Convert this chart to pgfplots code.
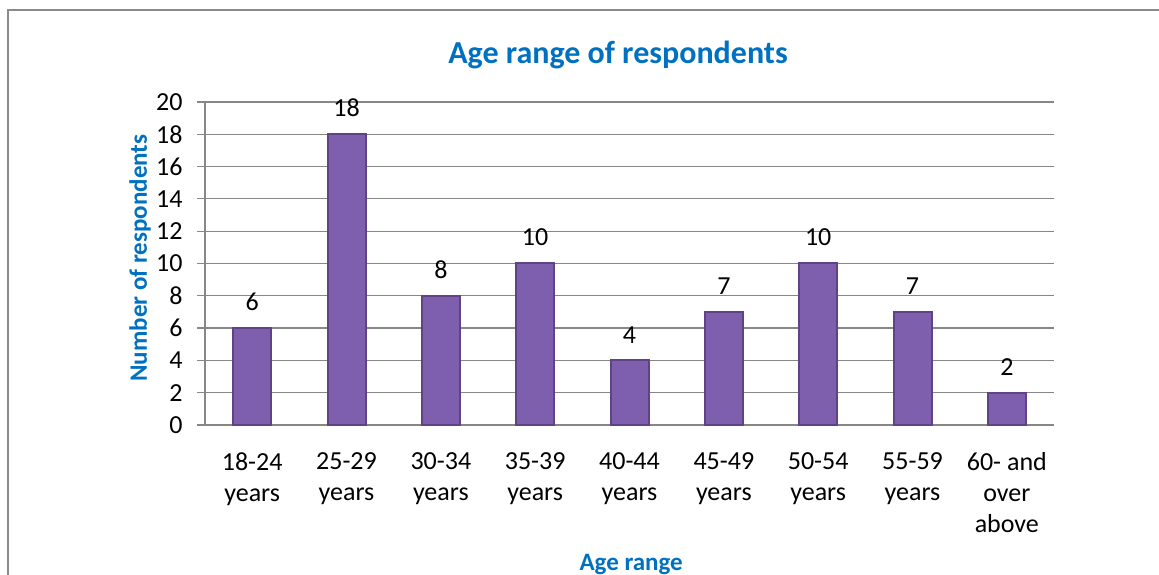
\documentclass[border=0pt]{standalone}
\usepackage{pgfplots}
\pgfplotsset{compat=1.18}
\usepackage{fontspec}
\setmainfont{Carlito}
\definecolor{titleblue}{HTML}{0070C0}
\definecolor{gridgray}{HTML}{878787}
\definecolor{barmid}{HTML}{7E5FAD}
\definecolor{barside}{HTML}{5E4487}
\definecolor{framegray}{HTML}{8A8A8A}
\begin{document}
\begin{tikzpicture}[x=1bp,y=1bp]
\useasboundingbox (0,0) rectangle (1159,575);
\draw[framegray, line width=1.5bp] (8,0) -- (8,565) -- (1159,565);
\begin{axis}[
  at={(205bp,150bp)}, anchor=south west,
  scale only axis, width=849bp, height=323bp,
  xmin=-0.5, xmax=8.5, ymin=0, ymax=20,
  ytick={0,2,...,20},
  xtick={0,...,8},
  xticklabels={{18-24\\years},{25-29\\years},{30-34\\years},{35-39\\years},{40-44\\years},{45-49\\years},{50-54\\years},{55-59\\years},{60- and\\over\\above}},
  extra x ticks={-0.5,0.5,...,8.5},
  extra x tick labels={},
  extra x tick style={grid=none, major tick length=8bp},
  x tick style={draw=none},
  y tick style={draw=gridgray, line width=1.2bp},
  major tick length=8bp,
  tick align=outside,
  axis x line*=bottom, axis y line*=left,
  axis line style={draw=gridgray, line width=1.2bp},
  ymajorgrids, grid style={draw=gridgray, line width=1.2bp},
  /pgf/number format/assume math mode=true,
  tick label style={font=\fontsize{26bp}{31bp}\selectfont, text=black},
  xticklabel style={align=center, anchor=north, yshift=-16bp},
  yticklabel style={anchor=east, xshift=-11bp},
  title={Age range of respondents},
  title style={at={(axis description cs:0.4865,1.102)}, anchor=base, yshift=0pt, font=\fontsize{32bp}{36bp}\selectfont\bfseries, text=titleblue},
  xlabel={Age range},
  xlabel style={at={(axis description cs:0.502,-0.449)}, anchor=base, font=\fontsize{25bp}{30bp}\selectfont\bfseries, text=titleblue},
  ylabel={Number of respondents},
  ylabel style={at={(axis description cs:-0.0766,0.517)}, anchor=center, font=\fontsize{25bp}{30bp}\selectfont\bfseries, text=titleblue},
  ybar, bar width=38bp,
  nodes near coords,
  nodes near coords style={font=\fontsize{26bp}{30bp}\selectfont, text=black, anchor=south, yshift=13bp},
  clip=false,
]
\addplot[ybar, fill=barmid, draw=barside, line width=2bp]
  coordinates {(0,6) (1,18) (2,8) (3,10) (4,4) (5,7) (6,10) (7,7) (8,2)};
\end{axis}
\end{tikzpicture}
\end{document}
